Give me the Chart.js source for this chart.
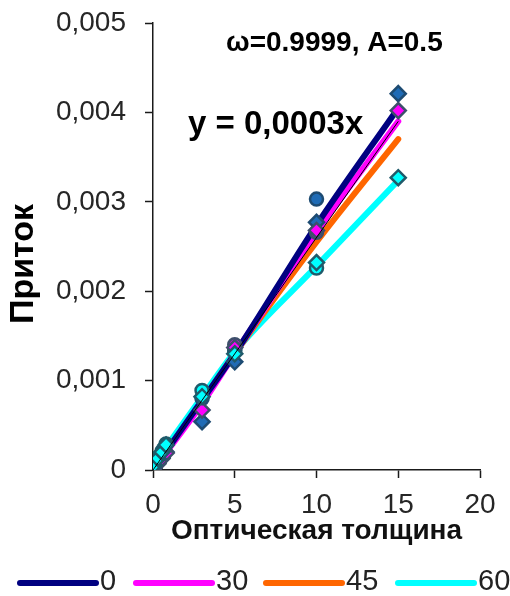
<!DOCTYPE html>
<html lang="ru">
<head>
<meta charset="UTF-8">
<title>Приток</title>
<script src="https://cdn.jsdelivr.net/npm/chart.js"></script>
<style>
    body { margin: 0; background: #fff; }
    .wrap { position: relative; width: 510px; height: 596px; }
</style>
</head>
<body>
<div class="wrap"><canvas id="chart"></canvas></div>
<script>
// optical thickness values where the fitted curves are given
const curveX = [0, 3, 5, 10, 15];
const curve0 = [0, 0.00078, 0.0013, 0.00274, 0.00405];
const curve30 = [0, 0.00074, 0.0013, 0.00266, 0.0039];
const curve45 = [0, 0.00077, 0.0013, 0.00255, 0.0037];
const curve60 = [0.00005, 0.00082, 0.00132, 0.00228, 0.00324];

// common linear trend y = 0,0003x
const trendX = [0, 15];
const trendY = [0, 0.0039];

// computed points
const pointX = [0.05, 0.3, 0.55, 0.8, 3, 5, 10, 15];
const diamond0 = [0.00002, 0.00008, 0.00014, 0.0002, 0.00054, 0.00121, 0.00277, 0.00421];
const diamond30 = [0.00002, 0.00007, 0.00013, 0.00019, 0.00067, 0.00137, 0.00268, 0.00402];
const diamond60 = [0.00005, 0.00013, 0.0002, 0.00028, 0.00082, 0.0013, 0.00232, 0.00327];
const circleX = [0.05, 0.3, 0.55, 0.8, 3, 5, 10];
const circle60 = [0.00006, 0.00014, 0.00021, 0.00029, 0.00089, 0.00133, 0.00226];
const circle0X = [3, 5, 10];
const circle0 = [0.0008, 0.00135, 0.00303];
const circle30X = [5, 10];
const circle30 = [0.0014, 0.00266];

const legendLabels = ['0', '30', '45', '60'];
const lineColors = ['#000080', '#ff00ff', '#ff6600', '#00ffff'];

const xy = (xs, ys) => xs.map((x, i) => ({ x: x, y: ys[i] }));

function curve(label, ys, color, order) {
    return {
        label: label, data: xy(curveX, ys), showLine: true,
        borderColor: color, backgroundColor: color, borderWidth: 6,
        borderCapStyle: 'round', cubicInterpolationMode: 'monotone',
        pointRadius: 0, order: order
    };
}

function markers(xs, ys, style, fill, edge, r, order) {
    return {
        label: '', data: xy(xs, ys), showLine: false, pointStyle: style,
        pointRadius: r, pointBackgroundColor: fill, pointBorderColor: edge,
        pointBorderWidth: 2.5, order: order
    };
}

const datasets = [
    curve(legendLabels[0], curve0, lineColors[0], 6),
    curve(legendLabels[1], curve30, lineColors[1], 7),
    curve(legendLabels[2], curve45, lineColors[2], 8),
    curve(legendLabels[3], curve60, lineColors[3], 9),
    markers(circle0X, circle0, 'circle', '#1f6bb5', '#1d4b72', 6.5, 5),
    markers(pointX, diamond0, 'rectRot', '#1f6bb5', '#1d4b72', 7.5, 4),
    markers(circle30X, circle30, 'circle', '#ff00ff', '#3d4f6b', 6.5, 3),
    markers(pointX, diamond30, 'rectRot', '#ff00ff', '#3d4f6b', 7.5, 2),
    markers(circleX, circle60, 'circle', '#00ffff', '#1f5a6a', 6.5, 2),
    markers(pointX, diamond60, 'rectRot', '#00ffff', '#1f5a6a', 7.5, 1),
    {
        label: '', data: xy(trendX, trendY), showLine: true,
        borderColor: '#000', borderWidth: 1, pointRadius: 0, order: 0
    }
];

// texts outside the scales: titles, equation and the legend row
const extraText = {
    id: 'extraText',
    afterDraw(chart) {
        const c = chart.ctx;
        c.save();
        c.fillStyle = '#000';
        c.textBaseline = 'middle';

        c.font = 'bold 28px "Liberation Sans", Arial, sans-serif';
        c.textAlign = 'left';
        c.fillText('ω=0.9999, A=0.5', 226, 43);

        c.font = 'bold 33px "Liberation Sans", Arial, sans-serif';
        c.fillText('y = 0,0003x', 188, 125);

        c.save();
        c.translate(24, 264);
        c.rotate(-Math.PI / 2);
        c.textAlign = 'center';
        c.font = 'bold 34px "Liberation Sans", Arial, sans-serif';
        c.fillText('Приток', 0, 0);
        c.restore();

        const starts = [20, 136, 266, 398];
        c.font = '29px "Liberation Sans", Arial, sans-serif';
        c.fillStyle = '#222';
        c.lineWidth = 6;
        c.lineCap = 'round';
        starts.forEach((x0, i) => {
            c.strokeStyle = lineColors[i];
            c.beginPath();
            c.moveTo(x0, 583);
            c.lineTo(x0 + 76, 583);
            c.stroke();
            c.fillText(legendLabels[i], x0 + 80, 582);
        });
        c.restore();
    }
};

new Chart(document.getElementById('chart'), {
    type: 'scatter',
    data: { datasets: datasets },
    plugins: [extraText],
    options: {
        responsive: true,
        maintainAspectRatio: false,
        animation: false,
        layout: { padding: { left: 0, right: 30, top: 23, bottom: 0 } },
        plugins: { legend: { display: false }, tooltip: { enabled: false } },
        scales: {
            x: {
                type: 'linear', min: 0, max: 20,
                afterFit: s => { s.height = 126; },
                border: { color: '#1a1a1a', width: 1.5 },
                grid: { drawOnChartArea: false, tickLength: 8, color: '#1a1a1a', tickWidth: 1.5 },
                ticks: {
                    stepSize: 5, padding: 10, color: '#262626',
                    font: { family: '"Liberation Sans", Arial, sans-serif', size: 28 }
                },
                title: {
                    display: true, text: 'Оптическая толщина', color: '#111',
                    padding: { top: 0, bottom: 48 },
                    font: { family: '"Liberation Sans", Arial, sans-serif', size: 28, weight: 'bold' }
                }
            },
            y: {
                min: 0, max: 0.005,
                afterFit: s => { s.width = 153; s.paddingTop = 0; s.paddingBottom = 0; },
                border: { color: '#1a1a1a', width: 1.5 },
                grid: { drawOnChartArea: false, tickLength: 8, color: '#1a1a1a', tickWidth: 1.5 },
                ticks: {
                    stepSize: 0.001, padding: 19, color: '#262626',
                    font: { family: '"Liberation Sans", Arial, sans-serif', size: 28 },
                    callback: v => v === 0 ? '0' : v.toFixed(3).replace('.', ',')
                }
            }
        }
    }
});
</script>
</body>
</html>
